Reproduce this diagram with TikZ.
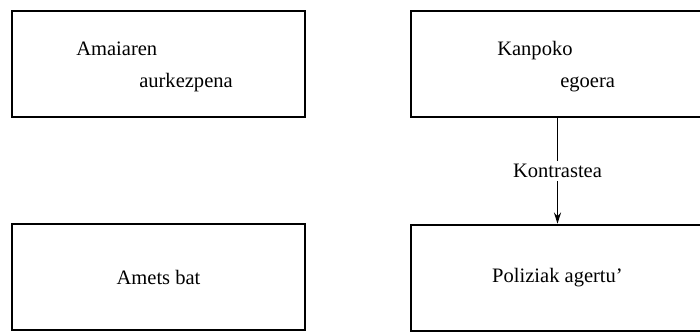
\documentclass[tikz,border=0pt]{standalone}
\usepackage{fontspec}
\setmainfont{Liberation Serif}
\usetikzlibrary{arrows.meta,positioning}

\begin{document}
\begin{tikzpicture}[x=0.025cm,y=0.025cm,>={Stealth[length=8pt,width=5pt]},
  bx/.style={draw,line width=1.7pt,minimum width=7.325cm,minimum height=2.65cm,
    inner sep=0pt,font=\fontsize{14.6}{17}\selectfont},
  t/.style={anchor=base west,inner sep=0pt,font=\fontsize{14.6}{17}\selectfont}]
  \useasboundingbox (0,0) rectangle (700,331);
  \clip (0,0) rectangle (700,331);
  % top row
  \node[bx](amaia) at (158.5,267){};
  \node[t](amaia1) at (76,276){Amaiaren};
  \node[t](amaia2) at (139,244){aurkezpena};
  \node[bx](kanpo) at (557.5,267){};
  \node[t](kanpo1) at (497,276){Kanpoko};
  \node[t](kanpo2) at (560,244){egoera};
  % bottom row
  \node[bx](amets) at (158.5,54){Amets bat};
  \node[bx](polizi) at (557.5,53){Poliziak agertu'};
  % contrast
  \draw[->,line width=1.4pt](kanpo)--(polizi)
    node[midway,fill=white,inner sep=2pt,font=\fontsize{14.6}{17}\selectfont](kontra){Kontrastea};
\end{tikzpicture}
\end{document}
